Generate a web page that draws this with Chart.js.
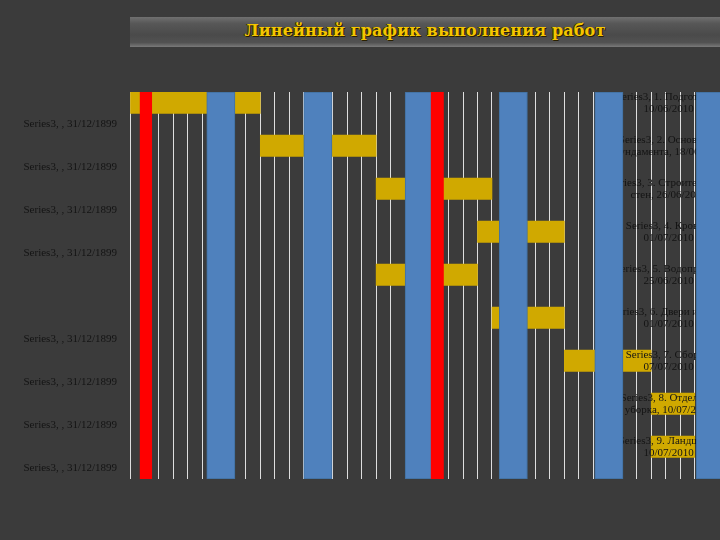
<!DOCTYPE html>
<html>
<head>
<meta charset="utf-8">
<script src="https://cdn.jsdelivr.net/npm/chart.js@4"></script>
<style>
  html, body { margin: 0; padding: 0; background: #3b3b3b; overflow: hidden; }
  #wrap { position: relative; width: 720px; height: 540px; }
  #gantt { position: absolute; left: 0; top: 0; }
  #banner {
    position: absolute; left: 130px; top: 17px; width: 590px; height: 30px;
    background: linear-gradient(#707070 0%, #575757 22%, #4a4a4a 60%, #525252 85%, #7a7a7a 100%);
    text-align: center; line-height: 30px;
    font: bold 16px "DejaVu Serif", serif; letter-spacing: 0.15px; color: #f4c600;
    text-shadow: 1px 1px 0 #2a2000, -1px 0 0 #3a3000;
  }
  #banner span { position: relative; top: 4px; }
</style>
</head>
<body>
<div id="wrap">
  <canvas id="gantt" width="720" height="540"></canvas>
  <div id="banner"><span>Линейный график выполнения работ</span></div>
</div>
<script>
// работы (день 0 = 01/06/2010)
const tasks = ["1. Подготовка", "2. Основание\nфундамента", "3. Строительство\nстен", "4. Кровля",
    "5. Водопровод", "6. Двери и окна", "7. Сборка", "8. Отделка и\nуборка", "9. Ландшафт"];
const taskStart = [0, 9, 17, 24, 17, 25, 30, 36, 36];
const taskEnd = [9, 17, 25, 30, 24, 30, 36, 39, 39];
const endDates = ["10/06/2010", "18/06/2010", "26/06/2010", "01/07/2010", "25/06/2010",
    "01/07/2010", "07/07/2010", "10/07/2010", "10/07/2010"];
// подписи слева (Series3 = 0 -> 31/12/1899), пятая не видна
const leftLabels = ["Series3, , 31/12/1899", "Series3, , 31/12/1899", "Series3, , 31/12/1899",
    "Series3, , 31/12/1899", "", "Series3, , 31/12/1899", "Series3, , 31/12/1899",
    "Series3, , 31/12/1899", "Series3, , 31/12/1899"];
// выходные (синие полосы), в днях
const weekendStart = [5.3, 12, 19, 25.5, 32.1, 39.1];
const weekendEnd = [7.25, 13.95, 20.95, 27.45, 34.05, 41];
// красные отметки
const markStart = [0.7, 20.8];
const markEnd = [1.5, 21.65];

const LABEL_DAY = 37.2;

// каждая работа занимает две строки: полоса + строка Series3
const rows = tasks.flatMap((t, i) => [t.replace("\n", " "), "Series3 " + (i + 1)]);
const barData = rows.map((r, k) => (k % 2 === 0 ? [taskStart[k / 2], taskEnd[k / 2]] : null));

const labelLines = (i) => {
    const parts = tasks[i].split("\n");
    if (parts.length > 1) {
        return ["Series3, " + parts[0], parts[1] + ", " + endDates[i]];
    }
    return ["Series3, " + parts[0] + ",", endDates[i]];
};

// подписи справа рисуем сразу после жёлтых полос, до синих
const taskLabels = {
    id: "taskLabels",
    afterDatasetDraw(chart, args) {
        if (args.index !== 0) return;
        const ctx = chart.ctx;
        const x = chart.scales.x.getPixelForValue(LABEL_DAY);
        ctx.save();
        ctx.font = '11px "Liberation Serif"';
        ctx.fillStyle = "#141414";
        ctx.textAlign = "center";
        ctx.textBaseline = "middle";
        tasks.forEach((t, i) => {
            const y = chart.scales.y.getPixelForValue(2 * i);
            const lines = labelLines(i);
            ctx.fillText(lines[0], x, y - 6);
            ctx.fillText(lines[1], x, y + 6);
        });
        ctx.restore();
    },
};

const ctx = document.getElementById("gantt").getContext("2d");
new Chart(ctx, {
    type: "bar",
    data: {
        labels: rows,
        datasets: [
            {
                label: "Работы",
                data: barData,
                backgroundColor: "#d0a900",
                grouped: false,
                order: 2,
                barPercentage: 1,
                categoryPercentage: 1,
            },
            {
                label: "Выходные",
                data: weekendStart.map((s, i) => ({ x: [s, weekendEnd[i]], y: "выходные" })),
                yAxisID: "yv",
                grouped: false,
                backgroundColor: "#4f81bd",
                borderColor: "#41709f",
                borderWidth: 1,
                borderSkipped: false,
                order: 1,
                barPercentage: 1,
                categoryPercentage: 1,
            },
            {
                label: "Отметки",
                data: markStart.map((s, i) => ({ x: [s, markEnd[i]], y: "выходные" })),
                yAxisID: "yv",
                grouped: false,
                backgroundColor: "#ff0000",
                order: 0,
                barPercentage: 1,
                categoryPercentage: 1,
            },
        ],
    },
    options: {
        indexAxis: "y",
        responsive: false,
        animation: false,
        layout: { padding: { top: 92, bottom: 61, left: 0, right: 0 } },
        plugins: {
            legend: { display: false },
            tooltip: { enabled: false },
        },
        scales: {
            x: {
                type: "linear",
                min: 0,
                max: 40.75,
                ticks: { display: false, stepSize: 1 },
                grid: { color: "#dedede", lineWidth: 1, drawTicks: false },
                border: { display: false },
                afterFit(scale) { scale.height = 0; },
            },
            y: {
                type: "category",
                grid: { display: false, drawTicks: false },
                border: { display: false },
                ticks: {
                    autoSkip: false,
                    callback: (v, k) => (k % 2 === 1 ? leftLabels[(k - 1) / 2] : ""),
                    color: "#141414",
                    font: { family: "Liberation Serif", size: 11 },
                    padding: 13,
                },
                afterFit(scale) { scale.width = 130; },
            },
            yv: {
                type: "category",
                labels: ["выходные"],
                display: false,
            },
        },
    },
    plugins: [taskLabels],
});
</script>
</body>
</html>
